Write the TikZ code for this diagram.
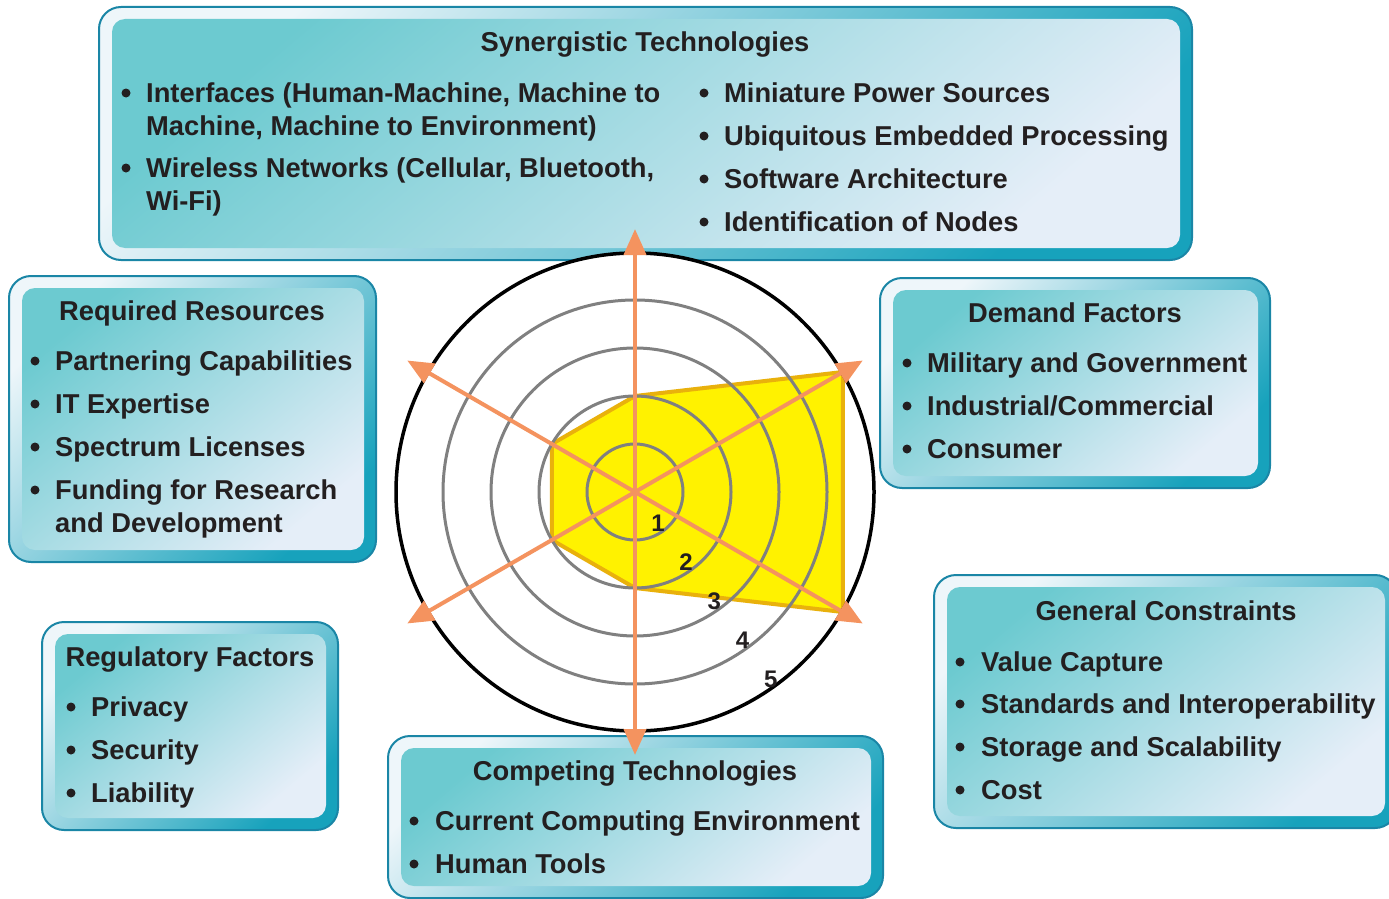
\documentclass[tikz,border=0pt]{standalone}
\usepackage{fontspec}
\setmainfont{Liberation Sans}
\usetikzlibrary{arrows.meta}

\definecolor{panelborder}{HTML}{1A86A6}
\definecolor{outerlight}{HTML}{EEF6FA}
\definecolor{outerdark}{HTML}{17A2BC}
\definecolor{innerteal}{HTML}{6CCAD0}
\definecolor{innermid}{HTML}{B2DFE5}
\definecolor{innerlight}{HTML}{E5EEF8}
\definecolor{textdark}{HTML}{231F20}
\definecolor{axisorange}{HTML}{F4935F}
\definecolor{spideryellow}{HTML}{FFF200}
\definecolor{spideredge}{HTML}{E9B10C}
\definecolor{ringgray}{HTML}{808080}

\newcommand{\paneltext}{\bfseries\fontsize{27.3}{33}\selectfont}

\tikzset{
    outer shade/.style={top color=outerlight, bottom color=outerdark, shading angle=45},
    inner shade/.style={top color=innerteal, middle color=innermid, bottom color=innerlight, shading angle=40},
    panel title/.style={font=\paneltext, text=textdark, anchor=base, inner sep=0pt},
    panel item/.style={font=\paneltext, text=textdark, anchor=base west, inner sep=0pt},
    ring/.style={draw=ringgray, line width=3pt},
    axis arrow/.style={draw=axisorange, line width=4pt, {Triangle[length=26pt,width=22pt]}-{Triangle[length=26pt,width=22pt]}},
    level label/.style={font=\bfseries\fontsize{24}{24}\selectfont, text=textdark, inner sep=0pt}
}

% x1 y1 x2 y2 of the outer frame
\newcommand{\infopanel}[4]{%
    \shade[outer shade, rounded corners=22pt] (#1,#2) rectangle (#3,#4);
    \draw[panelborder, line width=2pt, rounded corners=22pt] (#1,#2) rectangle (#3,#4);
    \shade[inner shade, rounded corners=13pt] (#1+13,#2+12) rectangle (#3-12,#4-12);
}
% bullet dot left of an item, at the item's baseline
\newcommand{\itemdot}[2]{\fill[textdark] (#1,#2-9) circle (4.5pt);}

\begin{document}
\begin{tikzpicture}[x=1pt, y=-1pt]
    \useasboundingbox (0,0) rectangle (1389,899);

    \infopanel{99}{7}{1192}{260}
    \node[panel title] (synTitle) at (645,52) {Synergistic Technologies};
    \itemdot{126}{102}
    \node[panel item] (synIface) at (146,102) {Interfaces (Human-Machine, Machine to};
    \node[panel item] (synIfaceB) at (146,135) {Machine, Machine to Environment)};
    \itemdot{126}{177}
    \node[panel item] (synWireless) at (146,177) {Wireless Networks (Cellular, Bluetooth,};
    \node[panel item] (synWirelessB) at (146,210) {Wi-Fi)};
    \itemdot{704}{102}
    \node[panel item] (synPower) at (724,102) {Miniature Power Sources};
    \itemdot{704}{145}
    \node[panel item] (synEmbedded) at (724,145) {Ubiquitous Embedded Processing};
    \itemdot{704}{188}
    \node[panel item] (synSoftware) at (724,188) {Software Architecture};
    \itemdot{704}{231}
    \node[panel item] (synNodes) at (724,231) {Identification of Nodes};

    \infopanel{9}{276}{376}{562}
    \node[panel title] (reqTitle) at (192,320) {Required Resources};
    \itemdot{35}{370}
    \node[panel item] (reqPartner) at (55,370) {Partnering Capabilities};
    \itemdot{35}{413}
    \node[panel item] (reqIT) at (55,413) {IT Expertise};
    \itemdot{35}{456}
    \node[panel item] (reqSpectrum) at (55,456) {Spectrum Licenses};
    \itemdot{35}{499}
    \node[panel item] (reqFunding) at (55,499) {Funding for Research};
    \node[panel item] (reqFundingB) at (55,532) {and Development};

    \infopanel{880}{278}{1270}{488}
    \node[panel title] (demTitle) at (1075,322) {Demand Factors};
    \itemdot{907}{372}
    \node[panel item] (demMilitary) at (927,372) {Military and Government};
    \itemdot{907}{415}
    \node[panel item] (demIndustrial) at (927,415) {Industrial/Commercial};
    \itemdot{907}{458}
    \node[panel item] (demConsumer) at (927,458) {Consumer};

    \infopanel{42}{622}{338}{830}
    \node[panel title] (regTitle) at (190,666) {Regulatory Factors};
    \itemdot{71}{716}
    \node[panel item] (regPrivacy) at (91,716) {Privacy};
    \itemdot{71}{759}
    \node[panel item] (regSecurity) at (91,759) {Security};
    \itemdot{71}{802}
    \node[panel item] (regLiability) at (91,802) {Liability};

    \infopanel{388}{736}{883}{898}
    \node[panel title] (compTitle) at (635,780) {Competing Technologies};
    \itemdot{414}{830}
    \node[panel item] (compCurrent) at (435,830) {Current Computing Environment};
    \itemdot{414}{873}
    \node[panel item] (compHuman) at (435,873) {Human Tools};

    \infopanel{934}{575}{1397}{828}
    \node[panel title] (genTitle) at (1166,620) {General Constraints};
    \itemdot{960}{671}
    \node[panel item] (genValue) at (981,671) {Value Capture};
    \itemdot{960}{713}
    \node[panel item] (genStandards) at (981,713) {Standards and Interoperability};
    \itemdot{960}{756}
    \node[panel item] (genStorage) at (981,756) {Storage and Scalability};
    \itemdot{960}{799}
    \node[panel item] (genCost) at (981,799) {Cost};

    \begin{scope}[shift={(635,492)}, y=1pt]
        \coordinate (hub) at (0,0);
        \fill[white] (hub) circle[radius=239pt];
        \draw[spideredge, line width=4pt, fill=spideryellow, line join=round]
            (90:96) -- (30:240) -- (-30:240) -- (-90:96) -- (-150:96) -- (150:96) -- cycle;
        \foreach \k in {1,...,4}
            \draw[ring] (hub) circle[radius=48pt*\k];
        \draw[black, line width=3.5pt] (hub) circle[radius=239pt];
        \foreach \a in {90,30,-30}
            \draw[axis arrow] (\a:263) -- (\a+180:263);
        \foreach \k in {1,...,5}
            \node[level label] (level\k) at (-54:48*\k-9) {\k};
    \end{scope}
\end{tikzpicture}
\end{document}
